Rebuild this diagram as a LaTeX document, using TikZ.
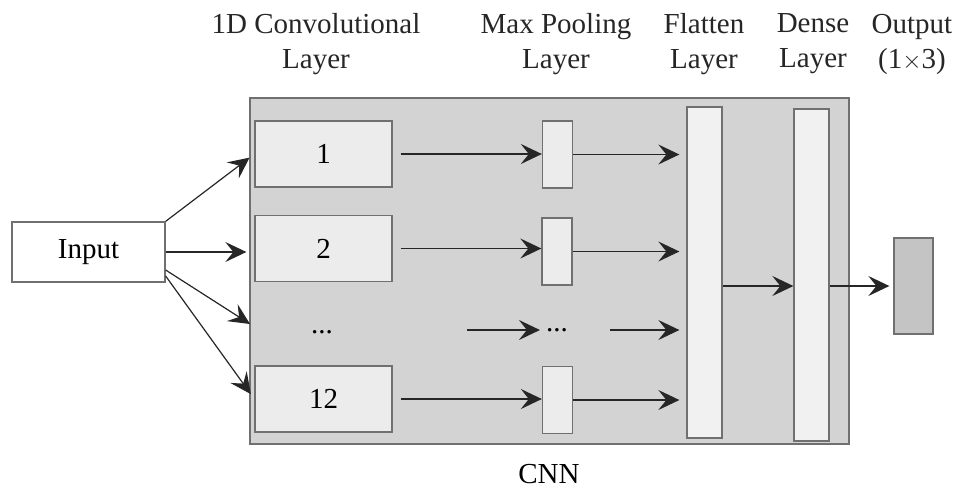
\documentclass[tikz,border=0pt]{standalone}
\usepackage{fontspec}
\setmainfont{Liberation Serif}
\usetikzlibrary{arrows.meta}
\definecolor{cnnbg}{RGB}{211,211,211}
\definecolor{boxfill}{RGB}{236,236,236}
\definecolor{barfill}{RGB}{241,241,241}
\definecolor{outfill}{RGB}{196,196,196}
\definecolor{edgegray}{RGB}{112,112,112}
\begin{document}
\begin{tikzpicture}[
			x=1pt, y=-1pt,
			every node/.style={inner sep=0pt, font=\fontsize{29}{35}\selectfont},
			box/.style={draw=edgegray, line width=1.3pt, fill=boxfill},
			bar/.style={draw=edgegray, line width=1.3pt, fill=barfill},
			title/.style={align=center, text=black!85},
			conn/.style={-{Stealth[length=21pt,width=20pt,inset=8pt]}, line width=1.2pt, black!85}
			]
			\useasboundingbox (0,0) rectangle (958,491);
			% Frame
			\node[draw=edgegray, line width=1.3pt, fill=cnnbg, minimum width=599pt, minimum height=346pt] (cnn) at (549.5,271) {};
			\node (cnnlabel) at (549,474) {CNN};
			
			% Titles
			\node[title] (convtitle) at (316,44) {1D Convolutional\\Layer};
			\node[title] (pooltitle) at (556,44) {Max Pooling\\Layer};
			\node[title] (flattitle) at (704,44) {Flatten\\Layer};
			\node[title] (densetitle) at (813,44) {Dense\\Layer};
			\node[title] (outtitle) at (912,44) {Output\\(1$\times$3)};
			
			% Nodes
			\node[draw=edgegray, line width=1.3pt, fill=white, minimum width=153pt, minimum height=60pt] (input) at (88.5,252) {Input};
			\node[box, minimum width=137pt, minimum height=66pt] (conv1) at (323.5,154) {1};
			\node[box, minimum width=137pt, minimum height=66pt] (conv2) at (323.5,248.5) {2};
			\node (convdots) at (322,332) {...};
			\node[box, minimum width=137pt, minimum height=66pt] (conv12) at (323.5,399) {12};
			\node[box, minimum width=30pt, minimum height=67pt] (pool1) at (557.5,154.5) {};
			\node[box, minimum width=30pt, minimum height=67pt] (pool2) at (557,251.5) {};
			\node (pooldots) at (557,330) {...};
			\node[box, minimum width=30pt, minimum height=67pt] (pool12) at (557.5,400) {};
			\node[bar, minimum width=35pt, minimum height=331pt] (flatten) at (704.5,272.5) {};
			\node[bar, minimum width=35pt, minimum height=332pt] (dense) at (811.5,275) {};
			\node[draw=edgegray, line width=1.3pt, fill=outfill, minimum width=39pt, minimum height=96pt] (output) at (913.5,286) {};
			
			\coordinate (dotsin) at (250,324);
			\coordinate (dotsa) at (467,330);
			\coordinate (dotsb) at (610,330);
			
			% Arrows from the input
			\draw[conn, shorten >=6pt] (input.north east) -- (conv1.west);
			\draw[conn, shorten >=8pt] (input.east) -- (conv2.west |- input.east);
			\draw[conn] ([yshift=-18pt]input.east) -- (dotsin);
			\draw[conn, shorten >=6pt] ([yshift=-24pt]input.east) -- (conv12.west);
			
			% Convolution to pooling
			\draw[conn, shorten <=8pt] (conv1.east) -- (conv1.east -| pool1.west);
			\draw[conn, shorten <=8pt] (conv2.east) -- (conv2.east -| pool2.west);
			\draw[conn, shorten >=6pt] (dotsa) -- (dotsa -| pooldots.west);
			\draw[conn, shorten <=8pt] (conv12.east) -- (conv12.east -| pool12.west);
			
			% Pooling to flatten
			\draw[conn, shorten >=7pt] (pool1.east) -- (pool1.east -| flatten.west);
			\draw[conn, shorten >=7pt] (pool2.east) -- (pool2.east -| flatten.west);
			\draw[conn, shorten >=7pt] (dotsb) -- (dotsb -| flatten.west);
			\draw[conn, shorten >=7pt] (pool12.east) -- (pool12.east -| flatten.west);
			
			% Dense part
			\draw[conn] (flatten.east |- output.west) -- (dense.west |- output.west);
			\draw[conn, shorten >=4pt] (dense.east |- output.west) -- (output.west);
		\end{tikzpicture}
\end{document}
